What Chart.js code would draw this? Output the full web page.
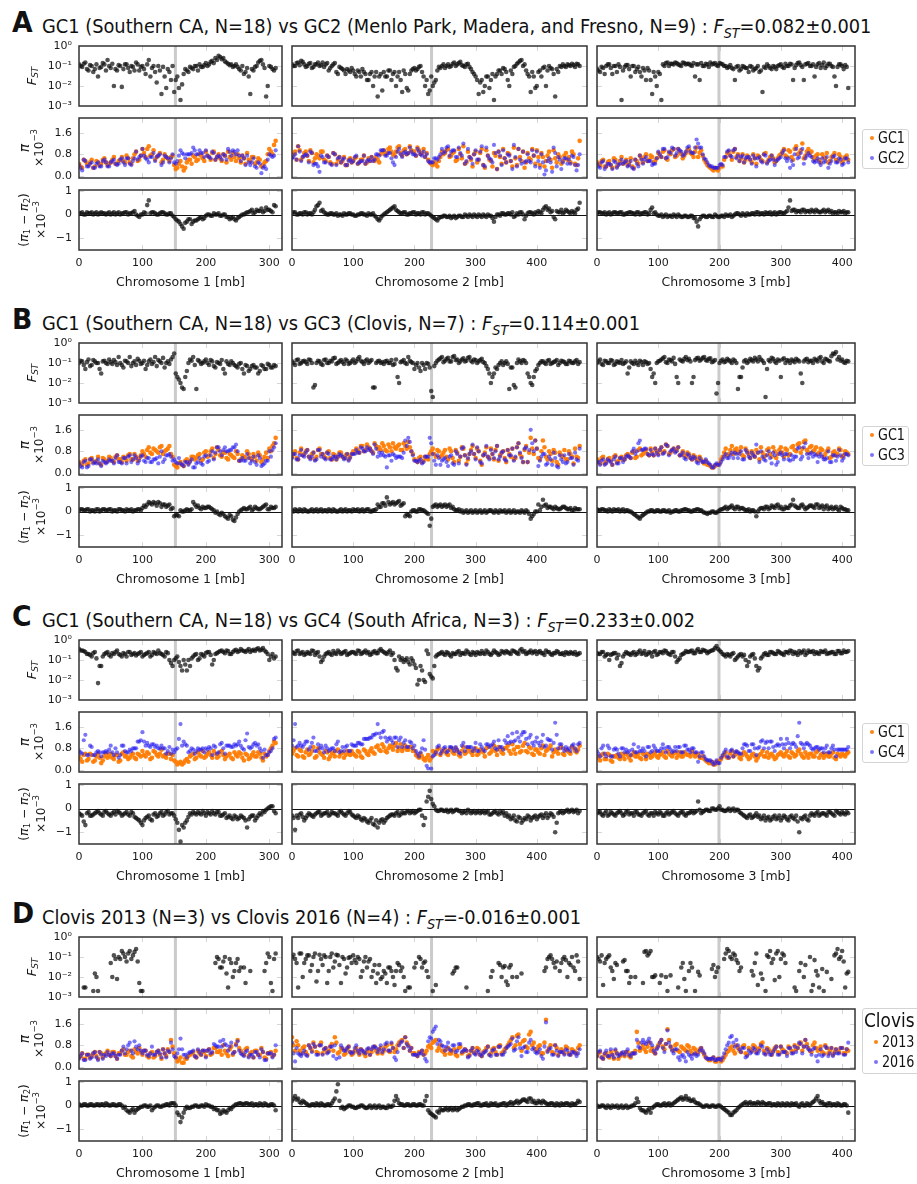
<!DOCTYPE html>
<html>
<head>
<meta charset="utf-8">
<script src="https://cdn.jsdelivr.net/npm/chart.js@4.4.1/dist/chart.umd.min.js"></script>
<style>
body { margin: 0; width: 917px; height: 1184px; overflow: hidden; background: #fff; position: relative; font-family: "DejaVu Sans", sans-serif; color: #111; }
canvas { position: absolute; }
.letter { position: absolute; font-weight: bold; font-size: 29px; line-height: 1; transform: scaleX(0.92); transform-origin: 0 0; }
.title { position: absolute; font-size: 19.5px; line-height: 1; white-space: nowrap; transform: scaleX(0.913); transform-origin: 0 0; }
.title sub { font-size: 0.72em; line-height: 0; }
.legend { position: absolute; border: 1px solid #d4d4d4; border-radius: 3px; background: #fff; }
.legend span { position: absolute; white-space: nowrap; line-height: 1; }
.legend .txt { transform: scaleX(0.85); transform-origin: 0 0; }
.legend .dot { width: 4px; height: 4px; border-radius: 2px; }
</style>
</head>
<body>
<script>
// windows along the chromosome: one value at i*5 mb and one at i*5+2.5 mb ("h" arrays)
const WINDOW_MB = 5;
const X_MAX = [320, 482, 421];
const X_TICKS = [0, 100, 200, 300, 400];
const CENTROMERE_MB = [152, 228, 199];
const CHROM_LABELS = ["Chromosome 1 [mb]", "Chromosome 2 [mb]", "Chromosome 3 [mb]"];

const PANEL_LETTERS = ["A", "B", "C", "D"];
const PANEL_TITLES = [
    "GC1 (Southern CA, N=18) vs GC2 (Menlo Park, Madera, and Fresno, N=9)",
    "GC1 (Southern CA, N=18) vs GC3 (Clovis, N=7)",
    "GC1 (Southern CA, N=18) vs GC4 (South Africa, N=3)",
    "Clovis 2013 (N=3) vs Clovis 2016 (N=4)"
];
const PANEL_FST = ["0.082±0.001", "0.114±0.001", "0.233±0.002", "-0.016±0.001"];
const LEGEND_TITLES = [null, null, null, "Clovis"];
const LEGEND_LABELS = [["GC1", "GC2"], ["GC1", "GC3"], ["GC1", "GC4"], ["2013", "2016"]];

const FST_TICKS = [0.001, 0.01, 0.1, 1];
const FST_TICK_LABELS = ["10⁻³", "10⁻²", "10⁻¹", "10⁰"];
const PI_TICKS = [0, 0.8, 1.6];
const PI_TICK_LABELS = ["0.0", "0.8", "1.6"];
const DPI_TICKS = [-1, 0, 1];
const DPI_TICK_LABELS = ["−1", "0", "1"];

// ---- panel A ----
const fstA1 = [0.12,0.09,0.15,0.06,0.1,0.07,0.03,0.09,0.12,0.2,
0.08,0.01,0.06,0.1,0.07,0.12,0.05,0.09,0.15,0.06,
0.1,0.04,0.2,0.08,0.05,0.1,0.004,0.03,0.07,0.02,
0.005,0.03,0.002,0.04,0.06,0.09,0.07,0.1,0.12,0.09,
0.14,0.12,0.18,0.25,0.32,0.22,0.17,0.13,0.12,0.1,
0.09,0.06,0.04,0.08,0.004,0.06,0.1,0.18,0.12,0.003,
0.1,0.07,0.08];
const fstA1h = [.1,.13,.07,.11,.05,.12,.08,.14,.06,.1,
.13,.07,.11,.009,.12,.08,.1,.06,.12,.09,
.07,.12,.03,.1,.015,.06,.09,.008,.05,.1,
.02,.008,.012,.07,.05,.08,.1,.06,.09,.11,
.1,.16,.14,.2,.28,.25,.15,.11,.09,.12,
.07,.1,.05,.03,.07,.09,.15,.2,.08,.01,
.09,.06];
const piA1 = [0.45,0.3,0.55,0.4,0.6,0.35,0.5,0.45,0.65,0.4,
0.5,0.7,0.45,0.6,0.55,0.75,0.5,0.65,0.9,0.6,
1.0,0.7,1.1,0.8,0.6,0.75,0.5,0.8,0.65,0.7,
0.4,0.3,0.55,0.2,0.5,0.6,0.75,0.55,0.8,0.65,
0.9,0.7,0.85,0.6,0.8,0.55,0.75,0.9,0.6,0.7,
0.8,0.5,0.65,0.85,0.55,0.7,0.5,0.6,0.4,0.55,
1.0,0.8,1.3];
const piA1h = [.35,.6,.45,.5,.3,.55,.4,.6,.5,.45,
.6,.45,.55,.7,.5,.65,.45,.8,.55,.75,
.85,1.0,.75,.95,.7,.85,.6,.7,.55,.75,
.25,.45,.35,.3,.6,.45,.7,.6,.75,.55,
.75,.6,.9,.7,.65,.8,.5,.7,.85,.55,
.65,.75,.45,.6,.7,.45,.65,.35,.5,.8,
.9,1.15];
const dA1 = [0.05,0.1,0.0,0.05,0.1,0.05,0.0,0.1,0.05,0.05,
0.0,0.1,0.05,0.0,0.05,0.1,0.05,0.1,0.0,-0.1,
0.0,0.05,0.6,0.1,0.05,0.0,0.1,0.05,0.0,0.05,
-0.1,-0.25,-0.4,-0.6,-0.3,-0.2,-0.3,-0.25,-0.15,-0.2,
-0.05,0.0,-0.05,0.0,0.05,-0.05,0.0,-0.1,-0.15,-0.2,
-0.15,-0.05,0.0,0.1,0.15,0.05,0.2,0.15,0.1,0.3,
0.2,0.1,0.35];
const dA1h = [.05,0,.1,.05,0,.1,.05,.05,0,.1,
.05,0,.1,.05,.1,0,.05,.15,-.05,0,
.1,.4,.05,.1,0,.05,.1,0,.05,-.05,
-.2,-.3,-.5,-.35,-.2,-.4,-.25,-.2,-.1,-.15,
0,-.05,.05,0,-.05,0,-.1,-.2,-.1,-.25,
-.1,0,.05,.1,.2,.1,.15,.25,.15,.2,
.15,.4];
const fstA2 = [0.12,0.1,0.15,0.18,0.12,0.1,0.14,0.09,0.12,0.1,
0.15,0.12,0.06,0.1,0.14,0.04,0.08,0.06,0.07,0.05,
0.06,0.03,0.05,0.07,0.04,0.02,0.05,0.03,0.003,0.04,
0.05,0.03,0.06,0.04,0.01,0.05,0.005,0.04,0.006,0.06,
0.08,0.07,0.1,0.03,0.02,0.006,0.01,0.02,0.09,0.1,
0.08,0.12,0.1,0.15,0.12,0.16,0.1,0.12,0.09,0.05,
0.03,0.004,0.02,0.01,0.03,0.02,0.002,0.04,0.06,0.08,
0.05,0.01,0.04,0.1,0.15,0.2,0.12,0.04,0.005,0.03,
0.01,0.06,0.08,0.01,0.1,0.07,0.003,0.05,0.09,0.1,
0.12,0.1,0.11,0.13,0.1];
const fstA2h = [.1,.14,.11,.16,.09,.13,.08,.12,.15,.11,
.09,.14,.08,.12,.05,.09,.07,.04,.06,.08,
.04,.06,.03,.05,.02,.04,.01,.05,.03,.006,
.03,.06,.02,.05,.03,.02,.06,.008,.04,.07,
.06,.09,.05,.01,.004,.03,.015,.06,.08,.12,
.1,.09,.13,.1,.14,.11,.09,.13,.07,.04,
.02,.015,.005,.03,.008,.04,.03,.06,.04,.07,
.02,.06,.09,.13,.18,.1,.06,.03,.05,.008,
.05,.03,.09,.06,.08,.04,.07,.1,.12,.09,
.11,.13,.09,.12];
const piA2 = [0.7,0.9,1.1,0.6,0.85,0.75,0.95,0.5,0.8,0.65,
0.9,0.55,0.7,0.45,0.8,0.6,0.5,0.7,0.4,0.65,
0.55,0.7,0.5,0.6,0.45,0.65,0.7,0.55,0.6,0.8,
0.95,0.85,1.05,0.8,0.9,1.1,0.75,1.0,0.85,0.95,
0.9,1.05,0.8,1.0,0.85,0.5,0.4,0.45,0.55,0.9,
0.85,1.0,0.75,0.9,0.6,0.8,1.1,0.5,0.7,0.35,
0.9,0.6,1.0,0.3,0.75,0.55,0.85,0.25,0.7,1.0,
0.5,0.8,0.35,0.65,1.0,0.55,0.3,0.85,0.6,0.75,
0.95,0.4,0.7,0.55,0.9,0.3,0.65,0.8,0.45,0.75,
0.6,0.5,0.8,0.4,1.3];
const piA2h = [.8,.6,.95,.7,.9,.55,.85,.65,.75,.9,
.6,.75,.5,.85,.45,.7,.55,.4,.6,.5,
.65,.45,.6,.75,.5,.55,.6,.7,.5,.9,
.8,1.0,.9,.75,1.05,.85,.95,.8,1.1,.9,
.75,.95,.85,.7,.6,.45,.5,.35,.7,.8,
.95,.7,.85,.55,1.0,.65,.45,.9,.6,.8,
.5,.85,.4,.95,.6,.35,.75,.9,.45,.65,
.85,.55,1.05,.4,.7,.9,.5,.65,1.0,.45,
.7,.85,.35,.75,.6,.95,.5,.7,.55,.85,
.7,.9,.45,.65];
const dA2 = [0.05,0.1,0.0,0.05,0.1,0.0,0.05,0.1,0.35,0.5,
0.2,0.05,0.0,0.05,0.0,-0.05,0.0,0.05,0.0,0.05,
0.0,-0.05,0.0,0.05,0.0,0.05,0.0,-0.05,-0.2,-0.15,
0.0,0.1,0.2,0.3,0.2,0.1,0.05,0.1,0.0,0.05,
0.1,0.05,0.0,0.1,0.05,0.0,-0.1,-0.2,-0.15,-0.1,
-0.05,-0.1,-0.15,-0.05,-0.1,-0.05,-0.1,-0.05,0.0,-0.1,
-0.05,0.0,-0.1,-0.05,0.0,-0.05,-0.3,0.0,-0.05,0.05,
0.0,0.05,0.1,-0.05,0.0,0.1,-0.2,0.05,0.1,0.0,
0.05,0.1,0.2,0.35,0.25,0.15,-0.2,0.1,0.2,0.1,
0.15,0.05,0.1,0.2,0.5];
const dA2h = [.1,0,.05,0,.1,.05,0,.2,.4,.15,
.1,0,.05,0,.05,0,-.05,0,.05,0,
-.05,0,.05,0,-.05,0,.05,-.1,-.25,-.05,
.05,.15,.25,.35,.15,.05,.1,0,.05,.1,
0,.05,.1,0,.05,-.05,-.15,-.25,-.1,-.05,
-.1,-.05,-.1,-.15,-.05,-.1,0,-.1,-.05,0,
-.1,-.05,0,-.1,-.05,-.15,-.1,0,.05,0,
.05,0,-.1,.05,.1,0,-.05,.1,.05,.1,
.15,.05,.3,.2,.1,-.1,.15,.1,.05,.2,
.1,.15,.05,.25];
const fstA3 = [0.07,0.05,0.08,0.1,0.12,0.04,0.1,0.12,0.002,0.09,
0.11,0.03,0.1,0.07,0.05,0.08,0.02,0.06,0.004,0.03,
0.05,0.002,0.1,0.15,0.13,0.12,0.14,0.11,0.15,0.12,
0.13,0.1,0.03,0.12,0.14,0.1,0.12,0.15,0.13,0.11,
0.14,0.12,0.1,0.09,0.08,0.02,0.1,0.07,0.09,0.08,
0.1,0.06,0.08,0.05,0.005,0.08,0.1,0.07,0.09,0.1,
0.12,0.08,0.1,0.13,0.02,0.11,0.15,0.09,0.12,0.14,
0.1,0.03,0.12,0.08,0.15,0.1,0.13,0.09,0.01,0.12,
0.1,0.11,0.008];
const fstA3h = [.06,.09,.04,.12,.08,.1,.05,.09,.06,.11,
.07,.1,.05,.09,.03,.06,.08,.02,.05,.01,
.04,.12,.14,.1,.13,.15,.12,.1,.14,.13,
.11,.14,.12,.02,.1,.13,.09,.12,.14,.1,
.13,.1,.08,.11,.07,.09,.06,.1,.08,.05,
.09,.07,.1,.06,.09,.12,.08,.1,.07,.11,
.09,.13,.1,.12,.08,.14,.11,.02,.13,.1,
.12,.09,.14,.11,.08,.13,.1,.03,.09,.12,
.07,.09];
const piA3 = [0.5,0.4,0.6,0.35,0.55,0.3,0.6,0.45,0.7,0.5,
0.4,0.65,0.3,0.55,0.75,0.5,0.8,0.6,0.7,0.55,
0.85,0.7,0.95,0.6,0.8,1.0,0.75,0.9,0.65,0.85,
1.0,0.8,0.9,0.7,0.95,0.6,0.4,0.3,0.2,0.25,
0.3,0.35,0.7,0.9,0.6,1.0,0.8,0.65,0.5,0.75,
0.6,0.8,0.45,0.7,0.55,0.85,0.6,0.75,0.5,0.65,
0.8,1.0,0.7,0.9,0.6,1.1,0.85,1.2,0.75,1.0,
0.9,0.6,0.8,0.5,0.7,0.85,0.55,0.75,0.6,0.8,
0.5,0.7,0.6];
const piA3h = [.45,.55,.35,.5,.4,.65,.35,.55,.45,.6,
.5,.35,.6,.45,.65,.7,.55,.75,.5,.65,
.75,.9,.65,.85,.95,.7,1.0,.8,.75,.95,
.85,.7,1.05,.85,.75,.5,.35,.25,.3,.2,
.4,.6,.85,.75,.9,.7,.55,.8,.6,.7,
.5,.65,.75,.6,.8,.5,.7,.65,.55,.75,
.9,.75,.95,.7,1.0,.8,.95,.65,.9,.85,
.7,.75,.6,.8,.65,.5,.7,.85,.55,.7,
.6,.75];
const dA3 = [0.05,0.1,0.05,0.0,0.1,0.05,0.1,0.05,0.1,0.0,
0.05,0.1,0.05,0.1,0.0,0.05,0.1,0.05,0.3,0.1,
-0.05,0.0,-0.05,-0.1,-0.05,0.0,-0.1,-0.05,-0.1,-0.05,
-0.1,-0.05,-0.15,-0.5,-0.1,-0.05,-0.1,-0.05,-0.1,-0.05,
-0.1,-0.05,0.0,-0.05,-0.1,0.0,0.05,-0.05,0.0,0.05,
0.0,0.05,0.1,0.0,0.05,0.1,0.05,0.0,0.1,0.05,
0.1,0.05,0.15,0.6,0.2,0.1,0.15,0.2,0.1,0.15,
0.2,0.1,0.15,0.1,0.2,0.15,0.1,0.05,0.1,0.15,
0.1,0.05,0.1];
const dA3h = [.1,.05,.1,.05,0,.1,.05,.1,0,.05,
.1,.05,0,.1,.05,.1,0,.2,.05,0,
-.05,-.1,0,-.05,-.1,-.05,0,-.1,-.05,-.1,
-.05,-.15,-.3,-.2,-.05,-.1,-.05,-.1,0,-.1,
-.05,-.1,-.05,0,-.05,.05,0,.05,-.05,0,
.05,0,.1,.05,0,.05,.1,.05,0,.1,
.05,.1,.3,.15,.2,.15,.1,.2,.15,.1,
.15,.2,.1,.15,.1,.2,.15,.1,.05,.1,
.15,.1];

// ---- panel B ----
const fstB1 = [0.1,0.12,0.05,0.15,0.08,0.12,0.1,0.03,0.13,0.09,
0.11,0.14,0.08,0.1,0.06,0.12,0.2,0.1,0.08,0.13,
0.1,0.05,0.12,0.09,0.2,0.14,0.1,0.06,0.12,0.15,
0.3,0.02,0.01,0.005,0.04,0.15,0.2,0.005,0.12,0.1,
0.15,0.08,0.12,0.06,0.1,0.14,0.03,0.09,0.12,0.08,
0.06,0.1,0.03,0.07,0.05,0.08,0.06,0.04,0.07,0.05,
0.08,0.06,0.07];
const fstB1h = [.13,.08,.11,.07,.14,.1,.05,.12,.1,.15,
.09,.11,.2,.08,.13,.1,.07,.12,.16,.09,
.13,.08,.15,.11,.07,.12,.18,.1,.09,.2,
.03,.015,.006,.02,.1,.13,.08,.14,.09,.12,
.1,.14,.07,.11,.09,.05,.12,.08,.1,.07,
.09,.05,.08,.04,.07,.06,.03,.08,.05,.09,
.06,.08];
const piB1 = [0.4,0.3,0.5,0.35,0.55,0.4,0.6,0.3,0.5,0.45,
0.55,0.4,0.65,0.5,0.6,0.45,0.7,0.5,0.6,0.55,
0.8,0.6,0.95,0.7,0.85,0.75,1.0,0.8,0.9,0.7,
0.3,0.2,0.4,0.25,0.5,0.45,0.6,0.55,0.7,0.5,
0.8,0.65,0.9,0.7,0.85,0.6,0.75,0.5,0.65,0.55,
0.7,0.5,0.6,0.8,0.55,0.7,0.45,0.65,0.5,0.75,
0.9,1.0,1.3];
const piB1h = [.35,.45,.3,.5,.4,.45,.35,.55,.4,.6,
.45,.6,.5,.4,.55,.65,.5,.7,.45,.65,
.7,.85,.75,.9,.8,.95,.7,.85,1.0,.6,
.25,.35,.3,.45,.35,.6,.5,.65,.45,.75,
.6,.8,.55,.95,.65,.75,.55,.7,.6,.8,
.45,.65,.55,.7,.5,.6,.75,.4,.6,.55,
.8,1.1];
const dB1 = [0.05,0.1,0.05,0.1,0.05,0.0,0.1,0.05,0.1,0.05,
0.1,0.05,0.0,0.1,0.05,0.1,0.05,0.0,0.05,0.1,
0.15,0.2,0.4,0.3,0.35,0.4,0.2,0.3,0.25,0.1,
-0.2,-0.15,0.05,0.0,0.1,0.05,0.4,0.2,0.15,0.2,
0.15,0.2,0.1,-0.05,-0.1,-0.05,-0.2,-0.3,-0.2,-0.4,
-0.1,0.05,0.15,0.1,0.2,0.1,0.15,0.1,0.2,0.3,
0.1,0.15,0.2];
const dB1h = [.1,.05,.1,0,.05,.1,0,.1,.05,.1,
0,.05,.1,.05,0,.05,.1,.05,.1,.05,
.25,.3,.35,.4,.25,.35,.3,.2,.3,.15,
-.15,-.2,0,.05,.05,.1,.3,.25,.1,.15,
.2,.15,.05,0,-.15,-.1,-.25,-.15,-.35,-.25,
0,.1,.1,.15,.05,.2,.1,.15,.25,.1,
.2,.15];
const fstB2 = [0.12,0.08,0.15,0.1,0.13,0.09,0.14,0.006,0.1,0.12,
0.08,0.15,0.1,0.12,0.18,0.1,0.14,0.09,0.13,0.1,
0.15,0.12,0.2,0.11,0.13,0.1,0.14,0.006,0.12,0.1,
0.09,0.13,0.1,0.08,0.15,0.01,0.12,0.1,0.2,0.11,
0.05,0.1,0.04,0.08,0.1,0.06,0.002,0.1,0.15,0.2,
0.13,0.18,0.12,0.22,0.15,0.12,0.17,0.13,0.2,0.11,
0.14,0.12,0.16,0.1,0.05,0.01,0.03,0.05,0.1,0.08,
0.12,0.005,0.06,0.006,0.15,0.1,0.13,0.03,0.01,0.02,
0.05,0.1,0.12,0.09,0.14,0.1,0.12,0.08,0.13,0.11,
0.09,0.12,0.1,0.14,0.11];
const fstB2h = [.1,.14,.09,.12,.11,.15,.1,.008,.13,.09,
.14,.1,.13,.17,.09,.12,.11,.15,.09,.12,
.1,.16,.13,.09,.15,.12,.006,.1,.13,.11,
.12,.1,.14,.09,.02,.11,.14,.09,.13,.1,
.08,.06,.1,.05,.09,.004,.07,.13,.17,.11,
.16,.12,.2,.14,.1,.15,.12,.18,.13,.15,
.1,.14,.11,.07,.03,.02,.06,.08,.12,.1,
.09,.06,.008,.1,.12,.14,.1,.02,.008,.04,
.08,.12,.1,.13,.09,.11,.14,.1,.12,.09,
.13,.1,.12,.09];
const piB2 = [0.6,0.8,0.5,0.9,0.7,0.85,0.55,0.75,0.6,0.9,
0.7,0.55,0.8,0.5,0.65,0.6,0.75,0.55,0.7,0.6,
0.8,0.9,0.75,1.0,0.85,0.95,0.8,1.1,0.9,0.85,
1.0,0.8,0.95,1.1,0.9,1.05,0.85,1.0,1.15,0.8,
0.5,0.4,0.6,0.45,0.55,0.7,0.9,0.6,0.8,0.65,
0.85,0.5,0.8,0.4,0.75,0.6,0.9,0.35,0.7,1.0,
0.55,0.8,0.3,0.75,0.6,0.9,0.5,1.0,0.65,0.8,
0.4,0.7,0.9,0.55,1.1,0.6,0.85,0.4,1.3,0.7,
0.9,0.5,1.2,0.6,0.8,0.45,0.75,0.3,0.65,0.85,
0.5,0.7,0.35,0.6,1.0];
const piB2h = [.7,.55,.75,.65,.8,.6,.7,.5,.85,.7,
.6,.75,.55,.7,.5,.75,.6,.65,.5,.7,
.75,.85,1.0,.8,1.05,.9,.75,1.0,.95,1.1,
.85,1.05,.8,.95,1.0,.85,1.1,.9,.95,.7,
.45,.55,.4,.6,.5,.8,.7,.85,.6,.75,
.6,.9,.55,.85,.45,.95,.65,.5,.85,.7,
.9,.45,.65,.95,.55,.7,.85,.45,.75,.55,
.85,.6,.5,.95,.7,.4,1.0,.75,.9,1.2,
.55,.8,.95,.5,.7,.85,.4,.75,.6,.5,
.8,.6,.9,.55];
const dB2 = [0.05,0.1,0.0,0.05,0.1,0.0,0.05,0.0,0.1,0.05,
0.0,0.05,0.1,0.0,0.05,0.0,0.1,0.05,0.0,0.05,
0.1,0.05,0.0,0.1,0.05,0.1,0.0,0.05,0.3,0.2,
0.35,0.6,0.3,0.4,0.35,0.45,0.3,-0.2,-0.15,0.0,
0.05,0.0,0.1,0.05,-0.05,-0.6,0.2,0.3,0.25,0.2,
0.3,0.25,0.15,0.1,0.05,0.0,-0.05,0.05,0.0,-0.05,
0.05,0.0,-0.05,0.05,0.0,0.05,-0.05,0.0,0.05,0.0,
-0.05,0.05,0.0,-0.05,0.0,0.05,-0.05,0.0,-0.3,-0.1,
0.0,0.05,0.5,0.3,0.2,0.15,0.2,0.1,0.15,0.2,
0.1,0.15,0.05,0.1,0.1];
const dB2h = [0,.05,.1,0,.05,0,.1,.05,0,.1,
.05,0,.05,.1,0,.05,0,.1,.05,0,
.05,.1,.05,0,.1,0,.05,.1,.2,.35,
.25,.4,.35,.3,.4,.25,.35,-.1,-.2,.05,
0,.1,.05,0,-.1,-.3,.25,.2,.3,.25,
.2,.3,.2,.05,.1,.05,0,-.05,.05,0,
-.05,.05,0,-.05,.05,0,.05,-.05,0,.05,
0,-.05,.05,0,-.05,0,.05,-.1,-.2,0,
.3,.2,.25,.15,.2,.1,.15,.1,.2,.15,
.1,.05,.15,.1];
const fstB3 = [0.1,0.15,0.08,0.12,0.1,0.13,0.09,0.11,0.14,0.1,
0.03,0.12,0.09,0.1,0.13,0.08,0.11,0.1,0.02,0.01,
0.12,0.15,0.2,0.1,0.14,0.18,0.02,0.15,0.12,0.2,
0.16,0.01,0.14,0.18,0.15,0.2,0.13,0.17,0.12,0.003,
0.1,0.15,0.12,0.14,0.1,0.13,0.005,0.02,0.12,0.1,
0.16,0.12,0.15,0.2,0.13,0.002,0.14,0.18,0.12,0.15,
0.02,0.17,0.14,0.1,0.13,0.16,0.12,0.01,0.15,0.11,
0.13,0.16,0.12,0.2,0.1,0.15,0.12,0.3,0.35,0.2,
0.15,0.1,0.12];
const fstB3h = [.12,.09,.13,.1,.14,.08,.12,.1,.09,.12,
.06,.1,.13,.08,.11,.12,.09,.05,.03,.1,
.13,.17,.11,.15,.12,.09,.01,.13,.16,.14,
.12,.02,.17,.13,.18,.14,.16,.11,.14,.01,
.13,.11,.16,.12,.15,.1,.02,.06,.14,.12,
.14,.18,.12,.15,.1,.05,.12,.16,.1,.13,
.15,.1,.13,.15,.11,.14,.03,.12,.16,.13,
.1,.14,.17,.12,.16,.13,.22,.28,.15,.13,
.11,.13];
const piB3 = [0.5,0.35,0.6,0.4,0.55,0.3,0.65,0.45,0.6,0.5,
0.7,0.55,0.8,0.6,0.9,0.7,0.85,0.65,0.75,0.9,
0.7,0.95,0.8,1.0,0.75,0.9,0.85,0.65,0.8,0.6,
0.7,0.5,0.6,0.45,0.5,0.35,0.3,0.25,0.2,0.3,
0.35,0.6,0.9,0.7,1.0,0.85,0.75,0.95,0.6,0.8,
0.55,0.7,0.85,0.5,0.75,0.65,0.9,0.6,0.8,0.7,
0.95,0.6,0.85,0.7,1.0,0.8,1.1,0.9,1.2,0.75,
1.0,0.85,0.7,0.9,0.6,0.8,0.55,0.75,0.65,0.9,
0.6,0.8,0.7];
const piB3h = [.45,.55,.35,.5,.45,.6,.4,.55,.5,.65,
.6,.75,.55,.85,.65,.8,.7,.9,.65,.8,
.85,.75,1.05,.7,.85,.8,.95,.7,.65,.75,
.55,.65,.5,.6,.4,.45,.3,.2,.25,.3,
.5,.75,.65,.85,.7,.9,.8,.65,.9,.7,
.8,.6,.75,.95,.6,.85,.7,.95,.55,.85,
.75,.9,.65,.95,.85,1.05,.75,1.15,.85,.95,
.8,.95,.75,.85,.7,.9,.6,.8,.7,.85,
.65,.75];
const dB3 = [0.1,0.05,0.1,0.05,0.1,0.0,0.05,0.1,0.05,0.0,
0.05,0.0,-0.1,-0.2,-0.3,-0.15,-0.05,0.0,0.05,0.0,
0.05,0.0,0.05,0.0,-0.05,0.0,0.05,0.0,0.05,0.1,
0.05,0.0,0.05,0.1,0.05,-0.05,-0.1,-0.05,0.0,-0.05,
0.05,0.1,0.2,0.15,0.25,0.1,0.2,0.15,0.1,0.05,
0.0,0.05,-0.2,0.1,0.15,0.2,0.1,0.25,0.15,0.3,
0.2,0.1,0.15,0.25,0.5,0.2,0.15,0.3,0.1,0.2,
0.25,0.15,0.3,0.2,0.1,0.25,0.15,0.1,0.2,0.05,
0.15,0.1,0.05];
const dB3h = [.05,.1,.05,0,.05,.1,.05,0,.1,.05,
0,-.05,-.15,-.25,-.2,-.1,0,.05,0,.05,
0,.05,0,.05,0,.05,0,.05,.1,.05,
0,.05,.1,.05,0,-.05,-.05,0,-.05,0,
.1,.15,.1,.2,.15,.2,.1,.15,.05,.1,
.05,0,0,.15,.1,.2,.15,.2,.25,.15,
.1,.2,.15,.3,.25,.15,.25,.2,.15,.25,
.2,.3,.15,.25,.2,.1,.2,.15,.1,.2,
.1,.05];

// ---- panel C ----
const fstC1 = [0.35,0.3,0.25,0.2,0.15,0.25,0.007,0.05,0.2,0.25,
0.15,0.2,0.3,0.18,0.22,0.15,0.25,0.2,0.17,0.22,
0.15,0.2,0.25,0.18,0.22,0.3,0.2,0.15,0.22,0.07,
0.1,0.15,0.05,0.1,0.03,0.05,0.15,0.2,0.12,0.18,
0.22,0.25,0.06,0.2,0.25,0.3,0.22,0.28,0.2,0.3,
0.25,0.35,0.28,0.3,0.25,0.32,0.35,0.3,0.4,0.25,
0.1,0.2,0.15];
const fstC1h = [.3,.28,.2,.18,.22,.12,.05,.15,.22,.18,
.22,.25,.2,.15,.2,.25,.18,.22,.2,.25,
.18,.22,.15,.25,.2,.22,.18,.25,.1,.05,
.12,.08,.03,.06,.1,.12,.18,.1,.2,.15,
.25,.18,.1,.22,.28,.25,.3,.2,.25,.32,
.28,.3,.25,.35,.3,.28,.38,.33,.3,.2,
.15,.12];
const piC1 = [0.5,0.3,0.6,0.4,0.55,0.35,0.6,0.25,0.5,0.45,
0.6,0.4,0.55,0.35,0.65,0.5,0.45,0.6,0.4,0.55,
0.7,0.5,0.6,0.45,0.65,0.5,0.75,0.55,0.6,0.4,
0.35,0.2,0.3,0.25,0.4,0.5,0.6,0.45,0.55,0.7,
0.5,0.65,0.45,0.6,0.5,0.7,0.4,0.55,0.45,0.65,
0.5,0.6,0.35,0.55,0.45,0.65,0.5,0.6,0.35,0.5,
0.7,0.9,1.0];
const piC1h = [.4,.55,.35,.6,.3,.5,.45,.35,.6,.5,
.45,.55,.3,.6,.5,.4,.55,.45,.6,.5,
.55,.65,.4,.7,.55,.6,.5,.45,.6,.55,
.3,.25,.2,.35,.3,.55,.4,.65,.5,.45,
.6,.55,.7,.45,.65,.55,.5,.6,.4,.55,
.65,.45,.6,.4,.55,.5,.65,.45,.6,.55,
.8,1.05];
const dC1 = [-0.2,-0.3,-0.7,-0.15,-0.3,-0.2,-0.1,-0.25,-0.15,-0.2,
-0.3,-0.15,-0.1,-0.2,-0.25,-0.15,-0.3,-0.2,-0.4,-0.5,
-0.7,-0.4,-0.3,-0.5,-0.2,-0.3,-0.15,-0.25,-0.1,-0.2,
-0.3,-0.6,-1.4,-0.8,-0.5,-0.2,-0.15,-0.25,-0.2,-0.1,
-0.3,-0.2,-0.1,-0.25,-0.15,-0.3,-0.2,-0.35,-0.4,-0.3,
-0.45,-0.3,-0.4,-0.8,-0.35,-0.3,-0.4,-0.2,-0.1,-0.05,
0.05,0.1,-0.2];
const dC1h = [-.25,-.55,-.2,-.3,-.25,-.15,-.2,-.3,-.1,-.25,
-.2,-.25,-.15,-.3,-.2,-.25,-.15,-.35,-.45,-.6,
-.5,-.35,-.45,-.25,-.35,-.2,-.3,-.15,-.25,-.2,
-.45,-.9,-.7,-.6,-.35,-.25,-.2,-.15,-.25,-.2,
-.15,-.25,-.2,-.15,-.3,-.25,-.4,-.3,-.45,-.35,
-.4,-.35,-.5,-.45,-.3,-.5,-.3,-.25,-.15,0,
.1,-.1];
const fstC2 = [0.25,0.2,0.3,0.22,0.18,0.25,0.2,0.28,0.22,0.15,
0.1,0.2,0.25,0.18,0.22,0.3,0.2,0.25,0.18,0.22,
0.25,0.2,0.28,0.22,0.3,0.25,0.2,0.28,0.22,0.35,
0.25,0.2,0.3,0.22,0.04,0.15,0.12,0.1,0.08,0.12,
0.06,0.006,0.05,0.01,0.3,0.02,0.012,0.15,0.2,0.25,
0.18,0.22,0.15,0.2,0.25,0.18,0.22,0.3,0.2,0.25,
0.18,0.22,0.28,0.2,0.25,0.18,0.3,0.22,0.2,0.25,
0.28,0.22,0.3,0.25,0.2,0.35,0.28,0.22,0.3,0.25,
0.2,0.28,0.22,0.3,0.25,0.18,0.22,0.25,0.2,0.18,
0.22,0.25,0.2,0.18,0.22];
const fstC2h = [.22,.28,.2,.25,.2,.22,.3,.18,.25,.08,
.15,.22,.2,.28,.2,.25,.22,.28,.2,.25,
.22,.3,.2,.25,.22,.18,.25,.22,.3,.28,
.22,.25,.18,.1,.03,.1,.08,.12,.06,.09,
.04,.01,.03,.008,.2,.015,.05,.18,.22,.2,
.25,.18,.22,.2,.28,.22,.2,.25,.18,.22,
.25,.2,.22,.3,.2,.22,.25,.18,.28,.22,
.25,.2,.28,.22,.3,.25,.2,.25,.22,.28,
.25,.22,.18,.25,.2,.22,.28,.2,.22,.25,
.2,.22,.25,.2];
const piC2 = [0.6,0.8,0.5,0.7,0.45,0.75,0.6,0.85,0.5,0.65,
0.55,0.7,0.4,0.65,0.5,0.75,0.6,0.45,0.7,0.55,
0.6,0.5,0.65,0.45,0.7,0.55,0.8,0.6,0.9,0.7,
0.85,0.65,0.9,0.75,1.0,0.8,0.7,0.9,0.75,0.85,
0.7,0.5,0.6,0.4,0.45,0.35,0.7,0.6,0.8,0.65,
0.75,0.55,0.8,0.6,0.7,0.5,0.85,0.65,0.75,0.55,
0.8,0.6,0.7,0.5,0.85,0.65,0.9,0.55,0.75,0.6,
0.8,0.7,0.95,0.6,0.85,0.7,1.0,0.65,0.8,0.55,
0.75,0.6,0.9,0.7,0.8,0.5,0.75,0.6,0.85,0.55,
0.7,0.6,0.8,0.65,0.9];
const piC2h = [.7,.55,.75,.5,.65,.55,.7,.45,.8,.6,
.45,.65,.5,.6,.7,.5,.65,.55,.6,.7,
.55,.7,.5,.75,.6,.7,.65,.85,.75,.95,
.7,.8,.85,.9,.7,.95,.8,.75,.85,.7,
.55,.45,.5,.35,.55,.45,.65,.75,.55,.7,
.6,.75,.65,.8,.55,.7,.6,.8,.65,.7,
.55,.75,.65,.8,.6,.75,.7,.85,.65,.8,
.9,.6,.75,.85,.65,.9,.7,.85,.6,.75,
.65,.8,.55,.75,.9,.65,.7,.8,.6,.75,
.65,.85,.7,.75];
const dC2 = [-0.3,-0.9,-0.4,-0.2,-0.5,-0.3,-0.25,-0.35,-0.2,-0.15,
-0.25,-0.2,-0.3,-0.15,-0.2,-0.3,-0.1,-0.25,-0.2,-0.15,
-0.3,-0.4,-0.35,-0.5,-0.45,-0.6,-0.4,-0.7,-0.8,-0.5,
-0.6,-0.4,-0.3,-0.25,-0.2,-0.3,-0.15,-0.2,-0.1,-0.15,
-0.2,-0.1,-0.05,-0.7,0.3,0.75,0.2,-0.05,-0.1,-0.05,
-0.1,-0.15,-0.05,-0.1,-0.05,-0.1,-0.15,-0.2,-0.1,-0.15,
-0.2,-0.1,-0.15,-0.2,-0.1,-0.25,-0.15,-0.2,-0.1,-0.15,
-0.2,-0.3,-0.4,-0.5,-0.35,-0.6,-0.4,-0.3,-0.5,-0.35,
-0.45,-0.3,-0.4,-0.2,-0.3,-0.25,-1.0,-0.2,-0.1,-0.15,
-0.05,-0.1,-0.15,-0.05,-0.1];
const dC2h = [-.4,-.3,-.25,-.35,-.4,-.2,-.3,-.25,-.15,-.3,
-.2,-.15,-.25,-.2,-.25,-.15,-.2,-.3,-.1,-.25,
-.35,-.3,-.45,-.4,-.55,-.5,-.65,-.5,-.6,-.45,
-.5,-.35,-.25,-.3,-.15,-.25,-.2,-.1,-.2,-.1,
-.15,-.05,-.3,-.4,.5,.4,.1,-.1,-.05,-.1,
-.05,-.1,-.15,-.05,-.1,-.2,-.1,-.05,-.2,-.1,
-.15,-.2,-.1,-.15,-.25,-.2,-.1,-.25,-.2,-.3,
-.35,-.45,-.3,-.55,-.4,-.5,-.45,-.35,-.4,-.3,
-.35,-.25,-.3,-.4,-.2,-.35,-.6,-.15,-.2,-.1,
-.15,-.05,-.1,-.2];
const fstC3 = [0.22,0.2,0.25,0.18,0.1,0.2,0.22,0.18,0.07,0.2,
0.22,0.18,0.25,0.2,0.3,0.22,0.18,0.25,0.15,0.28,
0.2,0.25,0.3,0.22,0.18,0.25,0.08,0.12,0.2,0.28,
0.25,0.3,0.22,0.35,0.25,0.3,0.22,0.28,0.32,0.5,
0.3,0.2,0.15,0.18,0.2,0.1,0.15,0.2,0.18,0.05,
0.15,0.2,0.05,0.04,0.15,0.22,0.18,0.25,0.2,0.28,
0.22,0.18,0.25,0.3,0.2,0.22,0.28,0.25,0.18,0.3,
0.25,0.2,0.22,0.28,0.25,0.2,0.22,0.25,0.2,0.28,
0.22,0.25,0.28];
const fstC3h = [.2,.25,.15,.2,.18,.22,.12,.05,.15,.25,
.2,.22,.18,.25,.2,.28,.2,.22,.25,.18,
.25,.22,.28,.2,.25,.15,.1,.18,.22,.25,
.28,.22,.3,.25,.32,.28,.25,.3,.4,.35,
.25,.18,.2,.15,.22,.12,.18,.15,.1,.08,
.18,.12,.03,.12,.2,.18,.25,.22,.2,.25,
.2,.25,.22,.28,.25,.18,.22,.3,.22,.25,
.28,.25,.2,.25,.3,.22,.25,.2,.28,.22,
.3,.25];
const piC3 = [0.5,0.35,0.6,0.4,0.55,0.3,0.5,0.45,0.6,0.4,
0.55,0.35,0.65,0.5,0.45,0.6,0.4,0.55,0.5,0.65,
0.45,0.6,0.5,0.7,0.55,0.6,0.45,0.65,0.5,0.6,
0.55,0.7,0.5,0.6,0.45,0.4,0.3,0.25,0.2,0.3,
0.35,0.5,0.65,0.45,0.7,0.55,0.6,0.4,0.65,0.5,
0.45,0.6,0.35,0.55,0.7,0.5,0.45,0.6,0.4,0.55,
0.65,0.5,0.7,0.45,0.6,0.55,0.75,0.5,0.65,0.45,
0.6,0.5,0.7,0.55,0.45,0.6,0.5,0.65,0.4,0.55,
0.6,0.5,0.65];
const piC3h = [.45,.55,.4,.6,.35,.5,.55,.4,.5,.6,
.45,.55,.5,.6,.4,.55,.6,.45,.6,.5,
.55,.65,.45,.6,.5,.65,.55,.5,.65,.55,
.5,.6,.55,.45,.5,.35,.25,.3,.2,.25,
.4,.55,.45,.6,.5,.65,.45,.55,.6,.4,
.55,.5,.45,.6,.5,.65,.55,.5,.45,.6,
.55,.6,.5,.65,.5,.7,.6,.45,.55,.6,
.5,.65,.45,.6,.55,.5,.6,.45,.6,.5,
.55,.6];
const dC3 = [-0.2,-0.15,-0.3,-0.1,-0.25,-0.2,-0.3,-0.15,-0.2,-0.25,
-0.1,-0.2,-0.3,-0.15,-0.25,-0.2,-0.1,-0.3,-0.2,-0.15,
-0.25,-0.2,-0.3,-0.15,-0.2,-0.1,-0.25,-0.2,-0.15,-0.3,
-0.2,-0.1,-0.15,0.3,-0.2,-0.1,-0.05,-0.1,0.0,-0.05,
0.1,-0.05,-0.1,0.0,-0.05,-0.1,-0.05,-0.2,-0.3,-0.4,
-0.25,-0.35,-0.2,-0.3,-0.4,-0.5,-0.35,-0.45,-0.3,-0.4,
-0.5,-0.3,-0.45,-0.35,-0.4,-0.3,-1.0,-0.45,-0.3,-0.5,
-0.2,-0.3,-0.15,-0.25,-0.2,-0.3,-0.15,-0.25,-0.1,-0.2,
-0.15,-0.25,-0.2];
const dC3h = [-.15,-.25,-.2,-.3,-.15,-.25,-.2,-.1,-.3,-.15,
-.25,-.2,-.15,-.25,-.3,-.15,-.25,-.2,-.3,-.2,
-.15,-.3,-.2,-.25,-.15,-.2,-.3,-.15,-.25,-.2,
-.15,-.2,-.1,-.05,-.15,-.05,-.1,0,-.05,0,
-.05,-.1,-.05,-.1,0,-.05,-.15,-.25,-.35,-.3,
-.4,-.3,-.35,-.45,-.3,-.4,-.5,-.35,-.45,-.3,
-.4,-.35,-.5,-.3,-.45,-.55,-.4,-.35,-.45,-.3,
-.25,-.2,-.3,-.2,-.25,-.15,-.2,-.3,-.15,-.25,
-.2,-.15];

// ---- panel D (null = window without a positive F_ST) ----
const fstD1 = [null,null,0.003,null,null,0.015,0.002,null,null,null,
0.05,0.12,0.008,0.08,0.15,0.06,0.2,0.12,0.25,0.005,
0.002,null,null,null,null,null,null,null,null,null,
null,null,null,null,null,null,null,null,null,null,
null,null,null,0.05,0.08,0.03,0.1,0.003,0.05,0.02,
0.08,0.03,0.03,null,0.02,null,null,null,null,0.05,
0.1,0.002,0.15];
const fstD1h = [null,.003,null,null,.002,.01,null,null,null,null,
.01,.08,.1,.2,.1,.15,.08,.18,.06,.002,
null,null,null,null,null,null,null,null,null,null,
null,null,null,null,null,null,null,null,null,null,
null,null,null,.1,.03,.06,.015,.08,.01,.05,
.02,null,.005,null,null,null,null,null,.02,.15,
.005,.08];
const piD1 = [0.35,0.5,0.3,0.45,0.4,0.55,0.3,0.5,0.45,0.6,
0.4,0.55,0.3,0.5,0.65,0.45,0.6,0.35,0.55,0.7,
0.45,0.6,0.35,0.55,0.4,0.6,0.3,0.5,0.65,1.0,
0.5,0.2,0.35,0.15,0.3,0.45,0.55,0.35,0.5,0.6,
0.4,0.65,0.5,0.7,0.55,0.45,0.6,0.4,0.75,0.55,
1.0,0.6,0.45,0.7,0.5,0.35,0.6,0.45,0.55,0.3,
0.5,0.4,0.6];
const piD1h = [.4,.3,.45,.35,.5,.4,.55,.35,.5,.45,
.55,.4,.5,.6,.45,.55,.4,.65,.5,.55,
.6,.4,.5,.35,.55,.45,.65,.4,.55,.75,
.35,.25,.15,.3,.4,.5,.4,.6,.45,.55,
.6,.45,.7,.55,.6,.8,.5,.65,.45,.85,
.7,.5,.65,.4,.55,.6,.45,.7,.35,.5,
.55,.45];
const dD1 = [0.05,0.0,0.05,0.0,0.05,0.0,0.05,0.05,0.0,0.05,
0.0,0.05,0.0,0.05,-0.1,-0.2,-0.3,-0.15,-0.2,-0.1,
-0.05,0.0,-0.05,-0.2,-0.05,0.0,-0.05,0.0,0.05,0.1,
0.1,-0.3,-0.7,-0.3,-0.05,-0.1,-0.05,0.0,-0.05,0.0,
0.05,0.0,-0.05,-0.1,-0.2,-0.3,-0.25,-0.2,-0.15,0.0,
0.05,0.1,0.05,0.1,0.05,0.0,0.05,0.1,0.0,0.05,
0.0,0.05,-0.2];
const dD1h = [0,.05,0,.05,0,.05,0,.05,.1,0,
.05,0,.05,0,-.05,-.25,-.2,-.3,-.15,-.05,
0,-.05,0,-.1,0,-.05,0,.05,0,.1,
0,-.4,-.5,-.15,-.1,-.05,0,-.05,0,-.05,
0,-.05,-.15,-.2,-.35,-.2,-.3,-.1,-.05,.05,
.1,.05,.1,.05,.1,.05,0,.05,.1,0,
.05,0];
const fstD2 = [0.1,0.08,0.003,0.15,0.05,0.12,0.02,0.1,0.006,0.13,
0.04,0.1,0.02,0.15,0.06,0.12,0.005,0.08,0.03,0.1,
0.12,0.05,0.08,0.02,0.1,0.06,0.01,0.04,0.015,0.008,
0.02,0.005,0.03,0.01,0.02,0.04,0.03,0.002,0.003,null,
0.03,null,0.08,0.05,0.02,null,0.002,0.004,null,null,
null,null,null,0.02,0.03,null,null,0.003,null,null,
null,null,null,null,0.002,0.01,null,null,0.04,0.03,
0.006,0.03,0.01,null,null,0.015,null,null,null,null,
null,null,null,0.03,0.1,0.08,0.03,null,0.05,0.1,
0.01,0.04,0.03,0.12,0.008];
const fstD2h = [.13,.05,.15,.01,.08,.12,.04,.15,.02,.08,
.12,.005,.1,.03,.13,.04,.1,.015,.09,.05,
.07,.1,.01,.06,.03,.08,.02,.005,.04,.01,
.015,.03,.02,.004,.05,.02,.01,null,.003,null,
.05,.1,.03,.06,.01,null,null,null,null,null,
null,null,.015,.03,null,null,null,null,null,null,
null,null,null,null,null,.02,null,.05,.01,.035,
.004,.04,null,.01,null,null,null,null,null,null,
null,null,.02,.08,.12,.05,.06,.02,.08,.07,
.05,.1,.02,.06];
const piD2 = [1.1,0.6,0.8,0.5,0.75,0.45,0.7,0.9,0.55,0.8,
0.5,0.7,0.6,0.85,1.1,0.5,0.7,0.45,0.65,0.55,
0.5,0.7,0.45,0.6,0.4,0.65,0.55,0.75,0.5,0.7,
0.6,0.8,0.55,0.7,0.65,0.9,1.0,1.1,0.8,0.7,
0.5,0.4,0.55,0.45,0.6,0.8,0.9,1.0,0.7,0.6,
0.45,0.7,0.5,0.65,0.4,0.75,0.55,0.6,0.45,0.7,
0.5,0.65,0.4,0.6,0.75,0.5,0.7,0.45,0.8,0.55,
0.7,0.9,1.1,0.8,1.2,0.6,1.0,0.7,1.3,0.9,
0.6,0.8,0.5,1.75,0.7,0.55,0.8,0.45,0.65,0.5,
0.7,0.45,0.6,0.5,0.8];
const piD2h = [.8,.95,.6,.7,.55,.8,.6,.75,.5,.9,
.65,.55,.75,.6,.9,.55,.65,.5,.75,.45,
.6,.55,.65,.5,.55,.45,.7,.6,.65,.5,
.75,.6,.85,.55,.8,.95,.7,.9,.6,.5,
.45,.55,.6,.5,.75,.7,.95,.6,.8,.55,
.65,.5,.6,.45,.7,.5,.65,.4,.6,.55,
.7,.45,.55,.7,.45,.65,.55,.75,.5,.65,
.8,1.0,.7,1.15,.85,.95,.75,1.2,.8,.65,
.75,.5,.9,.6,.8,.5,.7,.55,.6,.75,
.5,.65,.55,.7];
const dD2 = [0.2,0.4,0.3,0.1,0.15,0.05,0.0,0.05,0.1,0.0,
0.05,0.0,0.05,0.1,0.3,0.9,-0.1,-0.15,-0.05,0.0,
-0.05,-0.1,-0.05,0.0,-0.1,-0.05,-0.1,0.0,-0.05,-0.1,
-0.05,-0.1,-0.05,0.0,0.4,0.1,0.05,0.0,0.05,0.0,
0.05,0.0,0.05,0.0,0.4,-0.3,-0.4,-0.5,-0.3,-0.2,
-0.15,-0.2,-0.1,-0.15,-0.2,-0.1,-0.05,0.0,0.05,0.0,
0.05,0.1,0.0,0.05,0.0,0.1,0.05,0.0,0.05,0.1,
0.0,0.1,0.05,0.15,0.1,0.2,0.25,0.15,0.3,0.2,
0.1,0.15,0.2,0.1,0.05,0.1,0.0,0.05,0.1,0.05,
0.1,0.0,0.05,0.1,0.15];
const dD2h = [.3,.25,.15,.2,.1,0,.05,0,.05,.1,
0,.05,0,.2,.6,.2,-.05,-.1,0,-.05,
-.1,-.05,0,-.05,-.1,0,-.05,-.1,0,-.05,
-.1,0,-.05,.2,.25,.05,0,.05,0,.05,
0,.05,0,.2,-.2,-.35,-.45,-.25,-.15,-.2,
-.1,-.15,-.2,-.1,-.15,-.05,0,.05,0,.05,
.1,0,.05,.1,0,.05,.1,0,.05,.1,
.05,.15,.1,.2,.15,.25,.2,.3,.15,.1,
.2,.1,.15,.05,.1,.05,.1,0,.05,.1,
.05,.1,.05,.2];
const fstD3 = [0.1,0.06,0.004,0.08,0.12,0.02,0.05,null,null,0.07,
0.02,0.01,null,null,null,0.005,0.2,0.15,0.01,0.012,
null,0.012,null,0.002,0.012,null,null,null,0.05,0.002,
0.02,0.03,0.002,0.018,null,null,null,null,0.04,0.018,
null,null,0.15,0.2,0.08,0.12,0.05,0.03,null,null,
null,0.012,0.15,null,0.008,0.002,0.1,0.05,0.007,0.2,
0.08,0.12,null,null,null,0.002,0.02,null,0.04,null,
0.002,0.07,0.012,null,0.002,0.018,null,null,0.15,0.08,
0.2,0.003,0.018];
const fstD3h = [.08,.12,.05,.1,.03,.008,.04,null,.06,.02,
.005,null,.01,null,null,.18,.12,.2,.01,null,
.005,null,.01,null,null,null,.003,.03,.008,null,
.05,null,null,.012,null,null,null,.025,.01,.03,
null,.08,.25,.1,.15,.07,.02,null,null,null,
.02,.05,.004,.015,null,.12,.2,.08,.15,.01,
.15,.05,null,null,.003,null,.05,.01,null,.1,
.004,.02,.003,.025,null,null,.008,.12,.25,.1,
.06,.015];
const piD3 = [0.4,0.55,0.3,0.5,0.35,0.45,0.6,0.3,0.5,0.4,
0.55,0.35,0.5,1.3,0.6,0.8,0.55,0.9,0.7,0.5,
0.8,1.0,0.65,1.4,0.75,0.6,0.85,0.55,0.7,0.6,
0.75,0.5,0.65,0.55,0.7,0.45,0.3,0.25,0.35,0.2,
0.3,0.25,0.45,0.6,0.75,0.5,0.7,0.55,0.8,0.45,
0.65,0.8,0.55,0.7,0.9,0.5,0.65,0.45,0.7,0.55,
0.75,0.6,0.5,0.7,0.55,0.65,0.85,0.6,1.0,0.7,
0.55,0.9,0.6,0.75,0.5,0.7,0.6,0.45,0.65,0.55,
0.7,0.5,0.6];
const piD3h = [.5,.35,.45,.4,.55,.3,.5,.4,.45,.55,
.4,.5,.6,.9,.7,.65,.75,.6,.55,.7,
.9,.75,.85,1.0,.65,.8,.6,.75,.65,.8,
.6,.7,.5,.65,.55,.35,.25,.3,.2,.3,
.2,.35,.55,.7,.6,.8,.6,.75,.5,.7,
.6,.75,.65,.85,.6,.7,.55,.6,.75,.5,
.65,.55,.75,.6,.8,.7,.9,.75,.85,.6,
.8,.7,.65,.55,.8,.5,.7,.55,.6,.7,
.5,.65];
const dD3 = [0.0,-0.05,0.0,-0.1,-0.05,0.0,-0.05,-0.1,0.0,-0.05,
-0.1,-0.05,0.0,0.3,-0.1,-0.2,-0.3,-0.15,-0.1,0.0,
0.05,0.0,0.1,0.05,0.0,0.1,0.2,0.3,0.25,0.4,
0.3,0.2,0.15,0.1,0.0,-0.05,0.0,-0.05,0.0,-0.05,
0.0,-0.1,-0.2,-0.3,-0.4,-0.25,-0.1,0.0,0.1,0.05,
0.15,0.1,0.05,0.1,0.15,0.05,0.1,0.0,0.05,0.1,
0.0,0.05,0.1,0.0,0.05,0.1,-0.05,0.1,0.0,0.05,
0.1,0.2,0.4,0.1,0.05,0.0,0.1,0.05,0.0,0.05,
0.0,0.05,-0.3];
const dD3h = [-.05,0,-.05,0,-.1,-.05,0,-.05,-.1,0,
-.05,0,.1,.15,-.2,-.25,-.2,-.3,-.05,.05,
0,.05,0,.1,.05,.15,.25,.35,.3,.25,
.2,.25,.1,.05,-.05,0,-.05,0,-.05,0,
-.05,-.15,-.25,-.4,-.3,-.2,-.05,.05,.15,.1,
.05,.1,.15,.05,.1,.05,.1,.05,0,.05,
.1,0,.05,.1,.05,0,.05,0,.1,0,
.15,.3,.2,.15,.05,.1,0,.05,.1,0,
.05,0];

const PANELS = [
    { fst: [fstA1, fstA2, fstA3], fstH: [fstA1h, fstA2h, fstA3h], pi: [piA1, piA2, piA3], piH: [piA1h, piA2h, piA3h], d: [dA1, dA2, dA3], dH: [dA1h, dA2h, dA3h] },
    { fst: [fstB1, fstB2, fstB3], fstH: [fstB1h, fstB2h, fstB3h], pi: [piB1, piB2, piB3], piH: [piB1h, piB2h, piB3h], d: [dB1, dB2, dB3], dH: [dB1h, dB2h, dB3h] },
    { fst: [fstC1, fstC2, fstC3], fstH: [fstC1h, fstC2h, fstC3h], pi: [piC1, piC2, piC3], piH: [piC1h, piC2h, piC3h], d: [dC1, dC2, dC3], dH: [dC1h, dC2h, dC3h] },
    { fst: [fstD1, fstD2, fstD3], fstH: [fstD1h, fstD2h, fstD3h], pi: [piD1, piD2, piD3], piH: [piD1h, piD2h, piD3h], d: [dD1, dD2, dD3], dH: [dD1h, dD2h, dD3h] }
];

// layout of the boxes (px)
const PANEL_TOP = [46, 343, 640, 937];
const ROW_STEP = 72;
const BOX_H = 60;
const BOX_X = [79, 292, 597];
const BOX_W = [203, 295, 258];
const PAD = 16;

const FONT = "DejaVu Sans";
const ORANGE = "rgba(255,125,5,0.95)";
const BLUE = "rgba(35,25,240,0.6)";
const BLACK = "rgba(15,15,15,0.72)";

Chart.defaults.font.family = FONT;
Chart.defaults.color = "#1a1a1a";

function pts(arr, off) {
    const ret = [];
    arr.forEach((v, i) => {
        if (v !== null) ret.push({ x: i * WINDOW_MB + off, y: v });
    });
    return ret;
}

function both(a, h) {
    return pts(a, 0).concat(pts(h, WINDOW_MB / 2));
}

function pi2(pi, d, off) {
    return pi.map((v, i) => ({ x: i * WINDOW_MB + off, y: v - d[i] }));
}

// rotated label drawn from runs of text (for sub/superscripts)
function drawRuns(ctx, runs, cx, cy) {
    ctx.save();
    ctx.translate(cx, cy);
    ctx.rotate(-Math.PI / 2);
    ctx.textBaseline = "middle";
    ctx.textAlign = "left";
    ctx.fillStyle = "#1a1a1a";
    let w = 0;
    runs.forEach(r => { ctx.font = r.f; w += ctx.measureText(r.t).width; });
    let x = -w / 2;
    runs.forEach(r => {
        ctx.font = r.f;
        ctx.fillText(r.t, x, r.dy || 0);
        x += ctx.measureText(r.t).width;
    });
    ctx.restore();
}

const F_IT = "italic 13px " + FONT;
const F_SUB = "italic 9px " + FONT;
const F_NORM = "12px " + FONT;
const F_SMALL = "8.5px " + FONT;
const TIMES_RUNS = [{ t: "×10", f: F_NORM }, { t: "−3", f: F_SMALL, dy: -5 }];
const Y_LABELS = [
    [{ x: 33, runs: [{ t: "F", f: F_IT }, { t: "ST", f: F_SUB, dy: 3 }] }],
    [{ x: 25, runs: [{ t: "π", f: "italic 14px " + FONT }] }, { x: 40, runs: TIMES_RUNS }],
    [{ x: 25, runs: [{ t: "(", f: F_NORM }, { t: "π", f: F_IT }, { t: "1", f: F_SMALL, dy: 3 },
        { t: " − ", f: F_NORM }, { t: "π", f: F_IT }, { t: "2", f: F_SMALL, dy: 3 }, { t: ")", f: F_NORM }] },
     { x: 42, runs: TIMES_RUNS }]
];

function boxPlugin(c, r) {
    return {
        id: "box" + c + r,
        beforeDatasetsDraw(chart) {
            const ctx = chart.ctx;
            const a = chart.chartArea;
            const xs = chart.scales.x;
            const ys = chart.scales.y;
            ctx.save();
            // inward tick marks
            ctx.strokeStyle = "#d6d6d6";
            ctx.lineWidth = 1;
            xs.ticks.forEach(t => {
                const px = Math.round(xs.getPixelForValue(t.value)) + 0.5;
                if (px <= a.left + 1 || px >= a.right - 1) return;
                ctx.beginPath();
                ctx.moveTo(px, a.bottom); ctx.lineTo(px, a.bottom - 5);
                ctx.moveTo(px, a.top); ctx.lineTo(px, a.top + 5);
                ctx.stroke();
            });
            ys.ticks.forEach(t => {
                const py = Math.round(ys.getPixelForValue(t.value)) + 0.5;
                if (py <= a.top + 1 || py >= a.bottom - 1) return;
                ctx.beginPath();
                ctx.moveTo(a.left, py); ctx.lineTo(a.left + 5, py);
                ctx.moveTo(a.right, py); ctx.lineTo(a.right - 5, py);
                ctx.stroke();
            });
            // centromere
            const cxp = xs.getPixelForValue(CENTROMERE_MB[c]);
            ctx.strokeStyle = "rgba(185,185,185,0.75)";
            ctx.lineWidth = 3;
            ctx.beginPath();
            ctx.moveTo(cxp, a.top); ctx.lineTo(cxp, a.bottom);
            ctx.stroke();
            if (r === 2) {
                const zy = Math.round(ys.getPixelForValue(0)) + 0.5;
                ctx.strokeStyle = "#111";
                ctx.lineWidth = 1;
                ctx.beginPath();
                ctx.moveTo(a.left, zy); ctx.lineTo(a.right, zy);
                ctx.stroke();
            }
            ctx.restore();
        },
        afterDatasetsDraw(chart) {
            const ctx = chart.ctx;
            const a = chart.chartArea;
            ctx.save();
            ctx.strokeStyle = "#333";
            ctx.lineWidth = 1.5;
            ctx.strokeRect(a.left, a.top, a.right - a.left, a.bottom - a.top);
            if (c === 0) {
                const cy = (a.top + a.bottom) / 2;
                Y_LABELS[r].forEach(l => drawRuns(ctx, l.runs, l.x, cy));
            }
            ctx.restore();
        }
    };
}

function yScale(r, showTicks) {
    const tickFont = { size: 11 };
    const base = {
        grid: { display: false, drawTicks: false },
        border: { display: false },
        ticks: { display: showTicks, padding: 7, font: tickFont, color: "#1a1a1a" }
    };
    if (r === 0) {
        return Object.assign(base, {
            type: "logarithmic", min: 0.001, max: 1,
            afterBuildTicks: s => { s.ticks = FST_TICKS.map(v => ({ value: v })); }
        }, { ticks: Object.assign(base.ticks, { callback: (v, i) => FST_TICK_LABELS[i] }) });
    }
    if (r === 1) {
        return Object.assign(base, {
            type: "linear", min: -0.08, max: 2.15,
            afterBuildTicks: s => { s.ticks = PI_TICKS.map(v => ({ value: v })); }
        }, { ticks: Object.assign(base.ticks, { callback: (v, i) => PI_TICK_LABELS[i] }) });
    }
    return Object.assign(base, {
        type: "linear", min: -1.5, max: 1.04,
        afterBuildTicks: s => { s.ticks = DPI_TICKS.map(v => ({ value: v })); }
    }, { ticks: Object.assign(base.ticks, { callback: (v, i) => DPI_TICK_LABELS[i] }) });
}

function makeChart(p, c, r) {
    const boxLeft = BOX_X[c];
    const boxW = BOX_W[c];
    const boxTop = PANEL_TOP[p] + r * ROW_STEP;
    const yW = c === 0 ? boxLeft : PAD;
    const xH = r === 2 ? 44 : PAD;

    const cv = document.createElement("canvas");
    const w = yW + boxW + PAD;
    const h = PAD + BOX_H + xH;
    cv.width = w; cv.height = h;
    cv.style.width = w + "px"; cv.style.height = h + "px";
    cv.style.left = (boxLeft - yW) + "px";
    cv.style.top = (boxTop - PAD) + "px";
    document.body.appendChild(cv);

    const P = PANELS[p];
    let datasets;
    const common = { pointRadius: 2.3, pointBorderWidth: 0, showLine: false };
    if (r === 0) {
        datasets = [Object.assign({ data: both(P.fst[c], P.fstH[c]), backgroundColor: BLACK }, common)];
    } else if (r === 1) {
        // lower order is drawn on top: the second population over the first
        datasets = [
            Object.assign({ data: both(P.pi[c], P.piH[c]), backgroundColor: ORANGE, order: 1 }, common),
            Object.assign({ data: pi2(P.pi[c], P.d[c], 0).concat(pi2(P.piH[c], P.dH[c], WINDOW_MB / 2)),
                backgroundColor: BLUE, order: 0 }, common, { pointRadius: 2.1 })
        ];
    } else {
        datasets = [Object.assign({ data: both(P.d[c], P.dH[c]), backgroundColor: BLACK }, common)];
    }

    new Chart(cv, {
        type: "scatter",
        data: { datasets: datasets },
        options: {
            responsive: false,
            animation: false,
            events: [],
            layout: { padding: { top: PAD, right: PAD, left: 0, bottom: 0 } },
            plugins: { legend: { display: false }, tooltip: { enabled: false } },
            scales: {
                x: {
                    type: "linear", min: 0, max: X_MAX[c],
                    grid: { display: false, drawTicks: false },
                    border: { display: false },
                    afterBuildTicks: s => { s.ticks = X_TICKS.filter(v => v <= X_MAX[c]).map(v => ({ value: v })); },
                    afterFit: s => { s.height = xH; },
                    ticks: { display: r === 2, padding: 7, font: { size: 11 }, color: "#1a1a1a", maxRotation: 0,
                        callback: v => String(v) },
                    title: { display: r === 2, text: CHROM_LABELS[c], font: { size: 12.5 }, color: "#1a1a1a",
                        padding: { top: 0, bottom: 4 } }
                },
                y: Object.assign(yScale(r, c === 0), { afterFit: s => { s.width = yW; } })
            }
        },
        plugins: [boxPlugin(c, r)]
    });
}

function addDiv(cls, text, left, top) {
    const d = document.createElement("div");
    d.className = cls;
    d.textContent = text;
    d.style.left = left + "px";
    d.style.top = top + "px";
    document.body.appendChild(d);
    return d;
}

function makeTitle(p) {
    const base = PANEL_TOP[p] - 13;
    addDiv("letter", PANEL_LETTERS[p], 12, base - 0.846 * 29);
    const t = addDiv("title", PANEL_TITLES[p] + " : ", 42, base - 0.846 * 19.5);
    const i = document.createElement("i");
    i.textContent = "F";
    const sub = document.createElement("sub");
    sub.textContent = "ST";
    i.appendChild(sub);
    t.appendChild(i);
    t.appendChild(document.createTextNode("=" + PANEL_FST[p]));
}

function makeLegend(p) {
    const top0 = PANEL_TOP[p];
    const hasTitle = LEGEND_TITLES[p] !== null;
    const lg = document.createElement("div");
    lg.className = "legend";
    lg.style.left = "862px";
    lg.style.top = (top0 + (hasTitle ? 71 : 83)) + "px";
    lg.style.width = hasTitle ? "70px" : "45px";
    lg.style.height = hasTitle ? "64px" : "38px";
    document.body.appendChild(lg);
    let y0 = 8;
    const fs = 15;
    if (hasTitle) {
        const s = document.createElement("span");
        s.className = "txt";
        s.textContent = LEGEND_TITLES[p];
        s.style.fontSize = "20px";
        s.style.left = "1px";
        s.style.top = "1px";
        lg.appendChild(s);
        y0 = 33;
    }
    const colors = [ORANGE, BLUE];
    LEGEND_LABELS[p].forEach((lab, k) => {
        const cy = y0 + k * 20;
        const dot = document.createElement("span");
        dot.className = "dot";
        dot.style.background = colors[k];
        dot.style.left = (hasTitle ? 11 : 7) + "px";
        dot.style.top = (cy - 2) + "px";
        lg.appendChild(dot);
        const s = document.createElement("span");
        s.className = "txt";
        s.textContent = lab;
        s.style.fontSize = fs + "px";
        s.style.left = (hasTitle ? 19 : 15) + "px";
        s.style.top = (cy - fs * 0.5) + "px";
        lg.appendChild(s);
    });
}

for (let p = 0; p < 4; p++) {
    makeTitle(p);
    for (let c = 0; c < 3; c++) {
        for (let r = 0; r < 3; r++) {
            makeChart(p, c, r);
        }
    }
    makeLegend(p);
}
</script>
</body>
</html>
